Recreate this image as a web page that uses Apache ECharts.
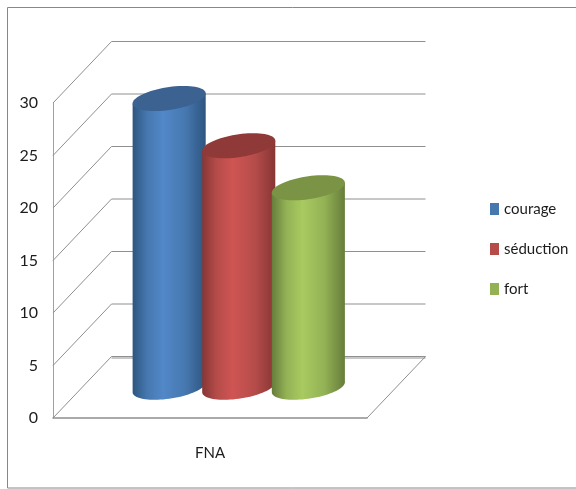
<!DOCTYPE html>
<html>
<head>
<meta charset="utf-8">
<style>html,body{margin:0;padding:0;background:#fff}#c{width:576px;height:489px}</style>
<script src="https://cdn.jsdelivr.net/npm/echarts@6/dist/echarts.min.js"></script>
</head>
<body>
<div id="c"></div>
<script>
const categories = ['FNA'];
const yTicks = [0, 5, 10, 15, 20, 25, 30];
const courage = [27.5];
const seduction = [23];
const fort = [19];

const FONT = 'Lato,"Open Sans",sans-serif';
const DX = 58.5, DY = -61.5;      // depth of the 3D box
const palettes = [
  {base:'#4678b0', mid:'#5288c8', edge:'#2d5580', top:'#3b6291'},
  {base:'#b54c4a', mid:'#cf5553', edge:'#873634', top:'#8f3a38'},
  {base:'#93b255', mid:'#a8ca60', edge:'#667d3b', top:'#7a9345'}
];

function ellipsePts(cx, cy, a, b, s, t0, t1, n) {
  const pts = [];
  for (let i = 0; i <= n; i++) {
    const t = t0 + (t1 - t0) * i / n;
    pts.push([cx + a * Math.cos(t), cy + b * Math.sin(t) - s * Math.cos(t)]);
  }
  return pts;
}

function cylinder(idx) {
  const p = palettes[idx];
  return function (params, api) {
    const cat = api.size([1, 0])[0];
    const w = cat / 4.48;
    const top = api.coord([api.value(0), api.value(1)]);
    const bot = api.coord([api.value(0), 0]);
    const cx = top[0] + (idx - 1) * (w - 0.5) + DX / 2 - 0.5;
    const yT = top[1] + DY / 2;
    const yB = bot[1] + DY / 2;
    const a = w / 2 + 1.5, b = 11.5, s = 5;
    const lowerBottom = ellipsePts(cx, yB, a, b, s, 0, Math.PI, 40);
    const body = [[cx + a, yT - s]].concat(lowerBottom, [[cx - a, yT + s]]);
    const cap = ellipsePts(cx, yT, a, b, s, 0, Math.PI * 2, 72);
    return {type: 'group', children: [
      {type: 'polygon', shape: {points: body}, style: {
        fill: new echarts.graphic.LinearGradient(0, 0, 1, 0, [
          {offset: 0, color: p.edge},
          {offset: 0.2, color: p.base},
          {offset: 0.42, color: p.mid},
          {offset: 0.72, color: p.base},
          {offset: 1, color: p.edge}
        ])
      }},
      {type: 'polygon', shape: {points: cap}, style: {fill: p.top}}
    ]};
  };
}

function frameItem(params, api) {
  const v = api.value(1);
  const f = api.coord([0, v]);
  const cat = api.size([1, 0])[0];
  const x0 = f[0] - cat / 2, x1 = f[0] + cat / 2, y = f[1];
  const stroke = {stroke: '#8f8f8f', lineWidth: 1, fill: null};
  const children = [];
  if (v === 0) {
    children.push({type: 'line', shape: {x1: x0 + DX, y1: y + DY + 1.5, x2: x1 + DX, y2: y + DY + 1.5}, style: {stroke: '#c8c8c8', lineWidth: 2}});
    children.push({type: 'polyline', shape: {points: [[x1, y], [x1 + DX, y + DY]]}, style: stroke});
  }
  children.push({type: 'polyline', shape: {points: [[x0, y], [x0 + DX, y + DY], [x1 + DX, y + DY]]}, style: stroke});
  return {type: 'group', children};
}

function cylSeries(name, values, idx) {
  return {
    name, type: 'custom', coordinateSystem: 'cartesian2d', z: 3 + idx, clip: false,
    itemStyle: {color: palettes[idx].base},
    renderItem: cylinder(idx),
    encode: {x: 0, y: 1},
    data: values.map((v, i) => [i, v])
  };
}

const chart = echarts.init(document.getElementById('c'), null, {renderer: 'canvas'});
chart.setOption({
  animation: false,
  backgroundColor: '#fff',
  graphic: [{type: 'rect', z: 0, shape: {x: 7.5, y: 7.5, width: 580, height: 480.5},
    style: {fill: 'none', stroke: '#888', lineWidth: 1}}],
  grid: {left: 53, top: 103, width: 314, height: 315},
  xAxis: {
    type: 'category', data: categories,
    axisLine: {show: true, lineStyle: {color: '#8f8f8f', width: 1.5}},
    axisTick: {show: false},
    axisLabel: {color: '#1c1c1c', fontFamily: FONT, fontSize: 15, margin: 28}
  },
  yAxis: {
    type: 'value', min: 0, max: 30, interval: 5,
    axisLine: {show: true, lineStyle: {color: '#a0a0a0', width: 1}},
    axisTick: {show: false},
    splitLine: {show: false},
    axisLabel: {color: '#1c1c1c', fontFamily: FONT, fontSize: 16, margin: 15, padding: [4, 0, 0, 0]}
  },
  legend: {
    data: ['courage', 'séduction', 'fort'],
    orient: 'vertical', left: 485, top: 195,
    itemWidth: 9, itemHeight: 12, itemGap: 22,
    icon: 'rect',
    textStyle: {color: '#1c1c1c', fontFamily: FONT, fontSize: 15, lineHeight: 18}
  },
  series: [
    {
      name: 'frame', type: 'custom', coordinateSystem: 'cartesian2d', z: 1, clip: false, silent: true,
      renderItem: frameItem, encode: {x: 0, y: 1},
      data: yTicks.map(v => [0, v])
    },
    cylSeries('courage', courage, 0),
    cylSeries('séduction', seduction, 1),
    cylSeries('fort', fort, 2)
  ]
});
</script>
</body>
</html>
